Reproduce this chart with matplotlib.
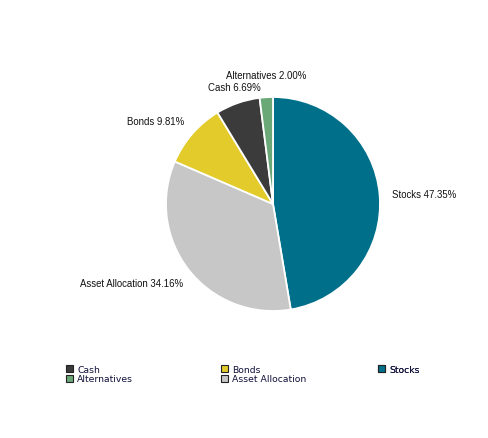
import matplotlib
matplotlib.use('Agg')
import matplotlib.pyplot as plt
from matplotlib.patches import Patch

# slices, clockwise from 12 o'clock
labels = ['Stocks', 'Asset Allocation', 'Bonds', 'Cash', 'Alternatives']
values = [47.35, 34.16, 9.81, 6.69, 2.00]
colors = ['#006F8A', '#C7C7C7', '#E2CB2B', '#3B3B3B', '#6AA878']

# label anchor points (pixels from top-left) and alignment
label_pos = [(392, 195), (183, 284), (184, 122), (261, 88), (306, 76)]
label_ha = ['left', 'right', 'right', 'right', 'right']

# legend columns
legend_cols = [['Cash', 'Alternatives'], ['Bonds', 'Asset Allocation'], ['Stocks']]
legend_x = [66, 221, 378]

W, H = 489, 439
fig = plt.figure(figsize=[W / 100, H / 100], dpi=100)
ax = fig.add_axes([0, 0, 1, 1])

ax.pie(values, colors=colors, startangle=90, counterclock=False,
       center=(273, H - 205), radius=107,
       wedgeprops=dict(edgecolor='white', linewidth=1.3))
ax.set_xlim(0, W)
ax.set_ylim(0, H)
ax.set_aspect('equal')
ax.axis('off')

for i, lab in enumerate(labels):
    x, y = label_pos[i]
    ax.text(x, H - y, '%s %.2f%%' % (lab, values[i]), ha=label_ha[i], va='center',
            fontsize=6.95, family='Liberation Sans', color='#111111')

col_of = dict(zip(labels, colors))
for k, col in enumerate(legend_cols):
    handles = [Patch(facecolor=col_of[n], edgecolor='#222222', linewidth=0.8, label=n) for n in col]
    leg = ax.legend(handles=handles, loc='upper left',
                    bbox_to_anchor=(legend_x[k] / W, 1 - 366 / H),
                    frameon=False, handlelength=0.75, handleheight=0.75,
                    handletextpad=0.45, labelspacing=0.05, borderpad=0, borderaxespad=0,
                    labelcolor='#10103A', prop=dict(family='DejaVu Sans', size=6.7))
    ax.add_artist(leg)

fig.savefig('out.png', dpi=100)
